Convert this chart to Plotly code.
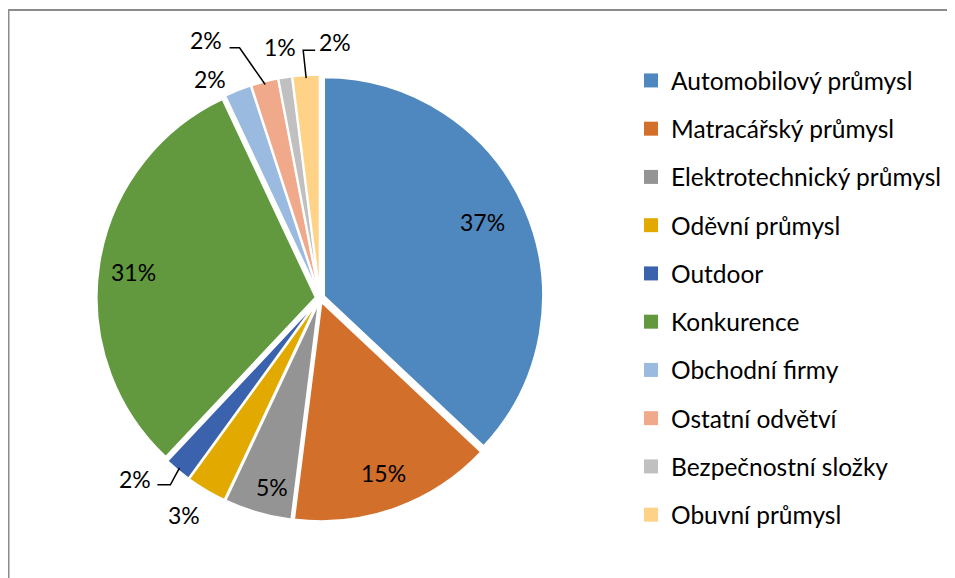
import math
import plotly.graph_objects as go

labels = ["Automobilový průmysl", "Matracářský průmysl", "Elektrotechnický průmysl",
          "Oděvní průmysl", "Outdoor", "Konkurence", "Obchodní firmy",
          "Ostatní odvětví", "Bezpečnostní složky", "Obuvní průmysl"]
values = [37, 15, 5, 3, 2, 31, 2, 2, 1, 2]
colors = ["#4F87BF", "#D26F2B", "#949494", "#E2AA00", "#3B63AD",
          "#62993E", "#9ABADF", "#F0A98A", "#C0C0C0", "#FFD387"]

# label placement style (radius factor, angular shift in degrees, leader line)
lab_rfac = [0.80, 0.83, 0.87, 1.15, 1.16, 0.84, 1.10, 1.27, 1.14, 1.15]
lab_dang = [-1.5, 0, -2, 1.5, 6, -1, -5, -9.5, 0, 7]
# leader: (end dx, end dy, elbow dx) relative to label centre, or None
leaders = [None, None, None, None, (22, 6, 13), None, None, (24, 8, 10), None, (-20, 8, -12)]

W, H = 955, 578
FONT = "Lato"
# figure coordinates (page is offset by the 8px body margin)
CX, CY, R, PULL = 312, 290, 219, 0.02

fig = go.Figure()
fig.add_trace(go.Pie(
    labels=labels, values=values, sort=False, direction="clockwise", rotation=0,
    marker=dict(colors=colors, line=dict(color="white", width=2)),
    pull=[PULL] * len(values),
    textinfo="none",
    domain=dict(x=[(CX - R * (1 + PULL)) / W, (CX + R * (1 + PULL)) / W],
                y=[(H - CY - R * (1 + PULL)) / H, (H - CY + R * (1 + PULL)) / H]),
    showlegend=False, hoverinfo="label+percent",
))

total = sum(values)
cum = 0
shapes = []
annotations = []
for i, v in enumerate(values):
    mid = (cum + v / 2) / total * 360
    cum += v
    th = math.radians(mid + lab_dang[i])
    r = PULL * R + lab_rfac[i] * R
    lx = CX + r * math.sin(th)
    ly = CY - r * math.cos(th)
    annotations.append(dict(
        x=lx / W, y=1 - ly / H, xref="paper", yref="paper",
        text=f"{v / total * 100:.0f}%", showarrow=False,
        font=dict(family=FONT, size=23, color="#000000"),
        xanchor="center", yanchor="middle"))
    if leaders[i]:
        thm = math.radians(mid)
        sx = CX + (R * (1 + PULL) - 3) * math.sin(thm)
        sy = CY - (R * (1 + PULL) - 3) * math.cos(thm)
        ex, ey = lx + leaders[i][0], ly + leaders[i][1]
        bx = ex + leaders[i][2]
        path = (f"M {sx / W},{1 - sy / H} L {bx / W},{1 - ey / H} L {ex / W},{1 - ey / H}")
        shapes.append(dict(type="path", xref="paper", yref="paper", path=path,
                           line=dict(color="#000000", width=1.5)))

# legend entries (one per category)
for lab, col in zip(labels, colors):
    fig.add_trace(go.Scatter(
        x=[None], y=[None], mode="markers", name=lab, legendgroup=lab,
        marker=dict(symbol="square", size=14, color=col), showlegend=True,
        hoverinfo="skip",
    ))

shapes += [
    dict(type="line", xref="paper", yref="paper", x0=0, x1=1, y0=1 - 2 / H, y1=1 - 2 / H,
         line=dict(color="#8C8C8C", width=2)),
    dict(type="line", xref="paper", yref="paper", x0=0, x1=0, y0=0, y1=1 - 2 / H,
         line=dict(color="#8C8C8C", width=3)),
]

fig.update_layout(
    width=W, height=H,
    margin=dict(l=0, r=0, t=0, b=0, autoexpand=False),
    paper_bgcolor="white", plot_bgcolor="white",
    font=dict(family=FONT, size=23, color="#000000"),
    xaxis=dict(visible=False), yaxis=dict(visible=False),
    legend=dict(x=623 / W, y=1 - 50 / H, xanchor="left", yanchor="top",
                tracegroupgap=13.4, font=dict(family=FONT, size=24.5, color="#000000"),
                bgcolor="rgba(0,0,0,0)"),
    shapes=shapes, annotations=annotations,
)

fig.write_html("out.html")
